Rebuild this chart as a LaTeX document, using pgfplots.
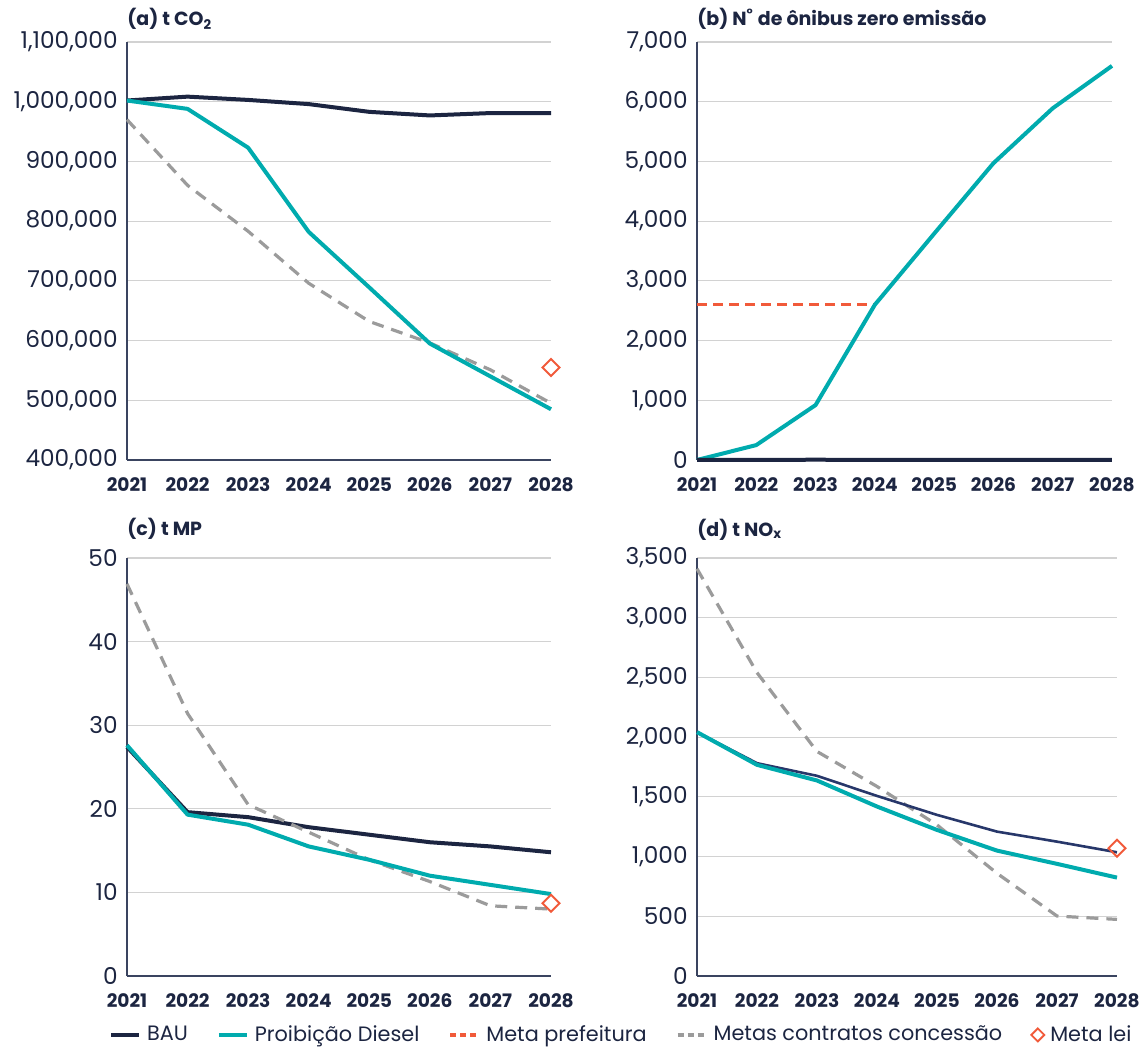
\documentclass[border=0pt]{standalone}
\usepackage{fontspec}
\setmainfont{Poppins}
\usepackage{pgfplots}
\pgfplotsset{compat=1.18}
\definecolor{navy}{HTML}{1C2541}
\definecolor{navyd}{HTML}{27376A}
\definecolor{tealc}{HTML}{00ABAE}
\definecolor{redc}{HTML}{F15A3A}
\definecolor{grayc}{HTML}{9B9B9B}
\definecolor{gridc}{HTML}{D2D2D2}
\definecolor{axisc}{HTML}{3A4460}
\pgfplotsset{
  panel/.style={
    scale only axis, anchor=south west, clip=false,
    height=209pt,
    xmin=2021, xmax=2028, xtick={2021,2022,...,2028},
    axis x line=bottom, axis y line=left,
    axis line style={-, draw=axisc, line width=0.8pt},
    major tick length=0pt, tick style={draw=none},
    ymajorgrids, grid style={draw=gridc, line width=0.6pt},
    /pgf/number format/assume math mode=true,
    scaled y ticks=false,
    xticklabel style={font=\fontsize{9.3}{11}\selectfont\bfseries, text=navy,
      /pgf/number format/fixed, /pgf/number format/1000 sep={}, inner sep=0pt, anchor=north, yshift=-8.5pt},
    yticklabel style={font=\fontsize{11.6}{13}\selectfont, text=navy,
      /pgf/number format/fixed, /pgf/number format/1000 sep={,}, inner sep=0pt, anchor=east, xshift=-4.5pt},
    title style={at={(0,1)}, anchor=base west, inner sep=0pt,
      font=\fontsize{9.5}{11}\selectfont\bfseries, text=navy},
  },
  toprow/.style={title style={yshift=2pt}},
  botrow/.style={title style={yshift=5pt}},
  bau/.style={navy, line width=2pt, line join=round},
  proib/.style={tealc, line width=2pt, line join=round},
  metas/.style={grayc, line width=1.6pt, dash pattern=on 6pt off 4pt},
  pref/.style={redc, line width=1.6pt, dash pattern=on 5pt off 3pt},
  lei/.style={only marks, mark=square, mark size=3pt,
    mark options={rotate=45, draw=redc, line width=1pt, fill=white}},
  leilegend/.style={legend image code/.code={\draw[mark=square, mark size=2.3pt, mark options={rotate=45, draw=redc, line width=0.9pt, fill=white}] plot coordinates {(3pt,0pt)};}},
}
\begin{document}
\begin{tikzpicture}
\useasboundingbox (0pt,0pt) rectangle (571pt,523pt);
% (a)
\begin{axis}[panel, toprow, at={(63.5pt,293pt)}, width=212pt,
  ymin=400000, ymax=1100000, ytick distance=100000,
  title={(a) t CO\textsubscript{2}}]
\addplot[bau] coordinates {(2021,1002000)(2022,1008500)(2023,1003000)(2024,996000)(2025,983000)(2026,977000)(2027,981000)(2028,981000)};
\addplot[metas] coordinates {(2021,970000)(2022,860000)(2023,783000)(2024,696000)(2025,632000)(2026,596000)(2027,551000)(2028,495000)};
\addplot[proib] coordinates {(2021,1002000)(2022,988000)(2023,923000)(2024,782000)(2025,689000)(2026,595000)(2027,540000)(2028,485000)};
\addplot[lei] coordinates {(2028,555000)};
\end{axis}
% (b)
\begin{axis}[panel, toprow, at={(348.5pt,293pt)}, width=207.5pt,
  ymin=0, ymax=7000, ytick distance=1000,
  title={(b) N\textsuperscript{°} de ônibus zero emissão}]
\addplot[pref] coordinates {(2021,2600)(2024,2600)};
\addplot[proib] coordinates {(2021,0)(2022,250)(2023,920)(2024,2600)(2025,3790)(2026,4970)(2027,5890)(2028,6600)};
\addplot[bau] coordinates {(2021,0)(2022,0)(2023,5)(2024,0)(2025,0)(2026,0)(2027,0)(2028,0)};
\end{axis}
% (c)
\begin{axis}[panel, botrow, at={(63.5pt,35pt)}, width=212pt,
  ymin=0, ymax=50, ytick distance=10,
  title={(c) t MP},
  legend columns=5,
  legend image code/.code={\draw[#1] (0pt,0pt) -- (14pt,0pt);},
  legend style={draw=none, fill=none, at={(1.168,-0.141)}, anchor=center,
    font=\fontsize{10.4}{12}\selectfont, text=navy,
    /tikz/every odd column/.append style={column sep=1pt},
    /tikz/every even column/.append style={column sep=12.5pt}},
  ]
\addplot[bau, forget plot] coordinates {(2021,27.4)(2022,19.6)(2023,19.0)(2024,17.8)(2025,16.9)(2026,16.0)(2027,15.5)(2028,14.8)};
\addplot[metas, forget plot] coordinates {(2021,46.9)(2022,31.4)(2023,20.5)(2024,17.2)(2025,13.9)(2026,11.3)(2027,8.4)(2028,8.0)};
\addplot[proib, forget plot] coordinates {(2021,27.6)(2022,19.3)(2023,18.1)(2024,15.5)(2025,13.9)(2026,12.0)(2027,10.9)(2028,9.8)};
\addplot[lei, forget plot] coordinates {(2028,8.7)};
\addlegendimage{navy, line width=2pt}
\addlegendentry{BAU}
\addlegendimage{tealc, line width=2pt}
\addlegendentry{Proibição Diesel}
\addlegendimage{redc, line width=2pt, dash pattern=on 3pt off 2pt}
\addlegendentry{Meta prefeitura}
\addlegendimage{grayc, line width=2pt, dash pattern=on 3pt off 2pt}
\addlegendentry{Metas contratos concessão}
\addlegendimage{leilegend}
\addlegendentry{Meta lei}
\end{axis}
% (d)
\begin{axis}[panel, botrow, at={(348.5pt,35pt)}, width=210pt,
  ymin=0, ymax=3500, ytick distance=500,
  title={(d) t NO\textsubscript{x}}]
\addplot[metas] coordinates {(2021,3410)(2022,2540)(2023,1880)(2024,1587)(2025,1265)(2026,860)(2027,502)(2028,474)};
\addplot[navyd, line width=1.3pt, line join=round] coordinates {(2021,2042)(2022,1782)(2023,1676)(2024,1508)(2025,1349)(2026,1209)(2027,1125)(2028,1036)};
\addplot[proib] coordinates {(2021,2042)(2022,1768)(2023,1637)(2024,1419)(2025,1223)(2026,1050)(2027,939)(2028,824)};
\addplot[lei] coordinates {(2028,1070)};
\end{axis}
\end{tikzpicture}
\end{document}
